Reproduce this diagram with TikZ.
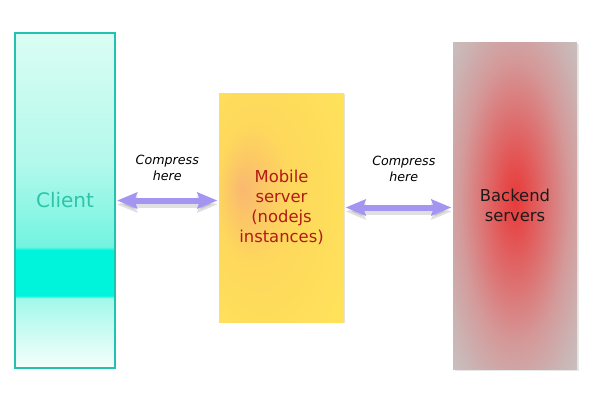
\documentclass[tikz,border=0pt]{standalone}
\usepackage{fontspec}
\setmainfont{DejaVu Sans}
\usepackage{tikz}
\usetikzlibrary{arrows.meta,shadows,positioning}
\definecolor{clientborder}{HTML}{22C2AE}
\definecolor{clienttext}{HTML}{2EC4A6}
\definecolor{mobiletext}{HTML}{B21A16}
\definecolor{backtext}{HTML}{1E1A1A}
\definecolor{flechecol}{HTML}{A595F2}
% client colours
\definecolor{cl1}{HTML}{F6FFFC}
\definecolor{cl2}{HTML}{A2F8EA}
\definecolor{cl3}{HTML}{00F4DC}
\definecolor{cl4}{HTML}{72F4E0}
\definecolor{cl5}{HTML}{B4F9EC}
\definecolor{cl6}{HTML}{DAFDF3}
% mobile colours
\definecolor{mo1}{HTML}{FAB870}
\definecolor{mo2}{HTML}{FCC866}
\definecolor{mo3}{HTML}{FED85C}
\definecolor{mo4}{HTML}{FFE35A}
\definecolor{mo5}{HTML}{FFC24E}
\definecolor{mo6}{HTML}{FFA442}
% backend colours
\definecolor{ba1}{HTML}{E83A3A}
\definecolor{ba2}{HTML}{E45252}
\definecolor{ba3}{HTML}{DC7676}
\definecolor{ba4}{HTML}{D49A9A}
\definecolor{ba5}{HTML}{CCB2B2}
\definecolor{ba6}{HTML}{C8C0C0}
\pgfdeclareverticalshading{clientshade}{100bp}{color(0bp)=(cl1); color(25bp)=(cl1); color(35.4bp)=(cl2); color(35.8bp)=(cl3); color(42.6bp)=(cl3); color(43.1bp)=(cl4); color(56bp)=(cl5); color(75bp)=(cl6); color(100bp)=(cl6)}
\pgfdeclareradialshading{mobileshade}{\pgfpoint{-16bp}{4bp}}{color(0bp)=(mo1); color(7bp)=(mo2); color(15bp)=(mo3); color(40bp)=(mo4); color(47bp)=(mo5); color(50bp)=(mo6)}
\pgfdeclareradialshading{backshade}{\pgfpoint{0bp}{1bp}}{color(0bp)=(ba1); color(6bp)=(ba2); color(14bp)=(ba3); color(22bp)=(ba4); color(30bp)=(ba5); color(36bp)=(ba6); color(50bp)=(ba6)}

\begin{document}
\begin{tikzpicture}[x=0.75pt, y=-0.75pt,
  boite/.style={rectangle, inner sep=0pt, align=center, shade},
  fleche/.style={{Stealth[length=15pt,width=12pt,inset=2pt]}-{Stealth[length=15pt,width=12pt,inset=2pt]}, line width=4.5pt, draw=flechecol, shorten <=1pt, shorten >=1pt},
  ombre/.style={fleche, draw=black, opacity=0.12, transform canvas={yshift=-3pt}},
  etiquette/.style={align=center, font=\fontsize{9.5}{12}\itshape\selectfont, text=black}]
\useasboundingbox (0,0) rectangle (600,400);
% boxes
\node [boite, shading=clientshade, draw=clientborder, line width=1.2pt, minimum width=75pt, minimum height=251.25pt, text=clienttext, font=\fontsize{15}{18}\selectfont] (client) at (65,200.5) {Client};
\node [boite, shading=mobileshade, drop shadow={shadow xshift=1pt, shadow yshift=-1pt, fill=black!20}, minimum width=93.75pt, minimum height=171.75pt, text=mobiletext, font=\fontsize{12.3}{15}\selectfont] (mobile) at (281.5,207.5) {Mobile\\server\\(nodejs\\instances)};
\node [boite, shading=backshade, drop shadow={shadow xshift=1.2pt, shadow yshift=-1.2pt, fill=black!18}, minimum width=93pt, minimum height=245.25pt, text=backtext, font=\fontsize{12.3}{15}\selectfont] (backend) at (515,205.5) {Backend\\servers};
% arrows
\draw[ombre] (client.east) -- (client.east -| mobile.west);
\draw[fleche] (client.east) -- (client.east -| mobile.west) node[midway, above=9pt, etiquette] {Compress\\here};
\draw[ombre] (mobile.east) -- (mobile.east -| backend.west);
\draw[fleche] (mobile.east) -- (mobile.east -| backend.west) node[midway, above=14pt, xshift=4pt, etiquette] {Compress\\here};
\end{tikzpicture}
\end{document}
